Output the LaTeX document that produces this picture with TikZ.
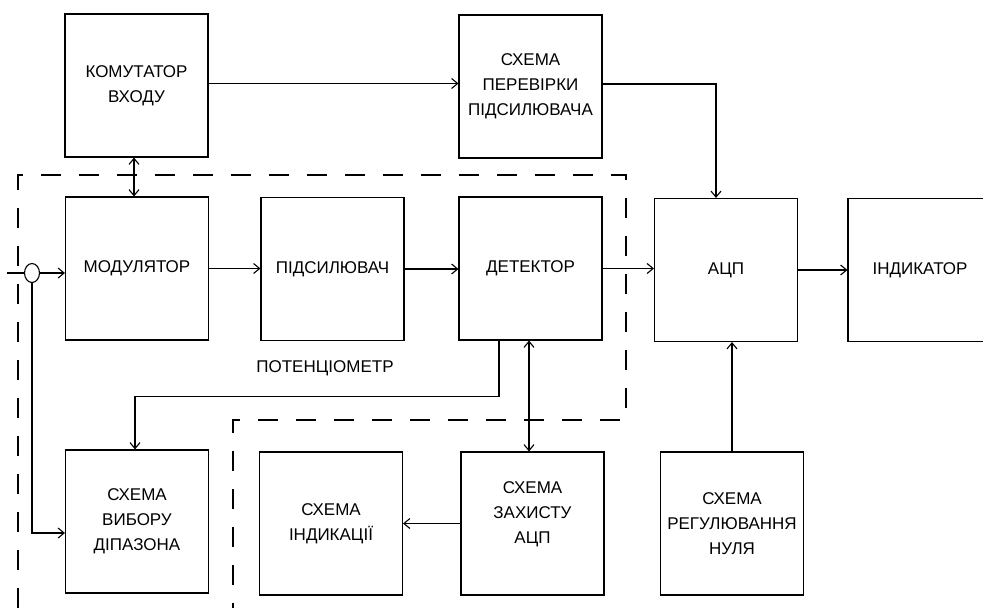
\documentclass[tikz,border=0pt]{standalone}
\usepackage{fontspec}
\setmainfont{Liberation Sans}
\usetikzlibrary{arrows.meta,shapes.geometric}

\tikzset{
  blok/.style={draw, line width=1.1pt, minimum width=143pt, minimum height=143pt,
    inner sep=0pt, align=center, font=\fontsize{17}{25}\selectfont},
  zvyazok/.style={line width=1.1pt},
  rozmitka/.style={line width=1.1pt, dash pattern=on 20pt off 18pt},
  >={Straight Barb[length=6pt,width=10pt]}
}

\begin{document}
\begin{tikzpicture}[x=1pt,y=-1pt]

      \useasboundingbox (0,0) rectangle (983,608);

      % Blocks
      \node[blok] (komut)   at (136.5,85.5)  {КОМУТАТОР\\ВХОДУ};
      \node[blok] (perev)   at (530.5,86.5)  {СХЕМА\\ПЕРЕВІРКИ\\ПІДСИЛЮВАЧА};
      \node[blok] (modul)   at (137,268.5)   {МОДУЛЯТОР};
      \node[blok] (pidsyl)  at (332.5,269)   {ПІДСИЛЮВАЧ};
      \node[blok] (detek)   at (530.5,268.5) {ДЕТЕКТОР};
      \node[blok] (acp)     at (726,270)     {АЦП};
      \node[blok, minimum width=144pt] (indyk) at (920,270) {ІНДИКАТОР};
      \node[blok] (vybor)   at (137,521.5)   {СХЕМА\\ВИБОРУ\\ДІПАЗОНА};
      \node[blok] (indkac)  at (331,523.5)   {СХЕМА\\ІНДИКАЦІЇ};
      \node[blok] (zakhyst) at (532.5,523.5) {СХЕМА\\ЗАХИСТУ\\АЦП\\[-4pt]};
      \node[blok] (regul)   at (732,523.5)   {СХЕМА\\РЕГУЛЮВАННЯ\\НУЛЯ};

      % Potentiometer border
      \draw[rozmitka] (18,608) -- (18,175) -- (626,175) -- (626,420)
          -- (233,420) -- (233,608);
      \node[font=\fontsize{17}{25}\selectfont] (poten) at (325,368) {ПОТЕНЦІОМЕТР};

      % Input
      \coordinate (vkhid) at (7,273);
      \node[draw, ellipse, line width=1.1pt, minimum width=15pt, minimum height=19pt,
          inner sep=0pt] (vuzol) at (32,273) {};
      \draw[zvyazok] (vkhid) -- (vuzol.west);
      \draw[zvyazok,->] (vuzol.east) -- (vuzol.east -| modul.west);
      \draw[zvyazok,->] (vuzol.south) |- ([yshift=-11.5pt]vybor.west);

      % Main chain
      \draw[zvyazok,->] (modul.east) -- (modul.east -| pidsyl.west);
      \draw[zvyazok,->] (pidsyl.east) -- (pidsyl.east -| detek.west);
      \draw[zvyazok,->] (detek.east) -- (detek.east -| acp.west);
      \draw[zvyazok,->] (acp.east) -- (acp.east -| indyk.west);

      % Top links
      \draw[zvyazok,->] ([yshift=2pt]komut.east) -- ([yshift=2pt]komut.east -| perev.west);
      \draw[zvyazok,<->] ([xshift=-2.5pt]komut.south) -- ([xshift=-2.5pt]komut.south |- modul.north);
      \draw[zvyazok,->] ([yshift=2.5pt]perev.east) -| ([xshift=-10pt]acp.north);

      % Bottom links
      \draw[zvyazok,->] ([xshift=-31.5pt]detek.south) -- ++(0,56) -| ([xshift=-2pt]vybor.north);
      \draw[zvyazok,<->] ([xshift=-1.5pt]detek.south) -- ([xshift=-1.5pt]detek.south |- zakhyst.north);
      \draw[zvyazok,->] (zakhyst.west) -- (zakhyst.west -| indkac.east);
      \draw[zvyazok,->] (regul.north) -- (regul.north |- acp.south);

\end{tikzpicture}
\end{document}
